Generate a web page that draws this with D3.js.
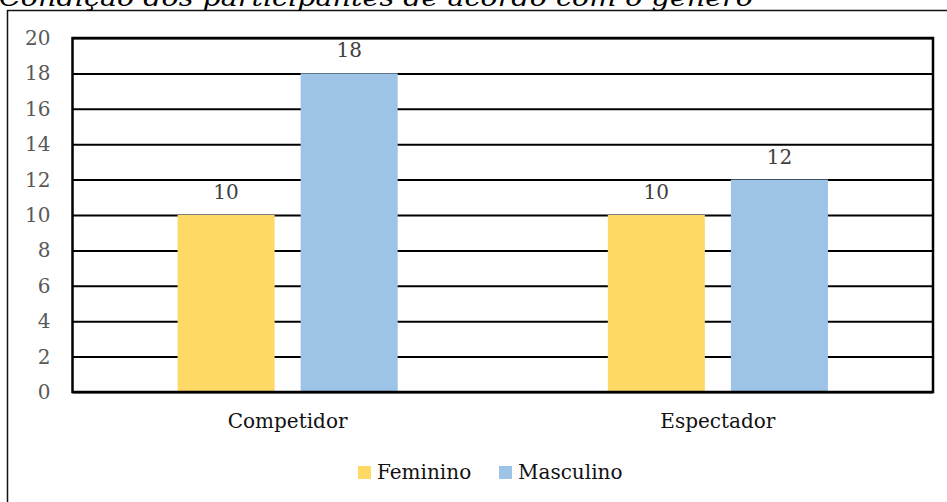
<!DOCTYPE html>
<html>
<head>
<meta charset="utf-8">
<script src="https://cdn.jsdelivr.net/npm/d3@7/dist/d3.min.js"></script>
<style>
  html, body { margin: 0; padding: 0; background: #fff; }
  svg { display: block; }
</style>
</head>
<body>
<svg id="chart" width="947" height="502"></svg>
<script>
const title = "Condição dos participantes de acordo com o gênero";
const categories = ["Competidor", "Espectador"];
const seriesNames = ["Feminino", "Masculino"];
const feminino = [10, 10];
const masculino = [18, 12];
const yTicks = [0, 2, 4, 6, 8, 10, 12, 14, 16, 18, 20];
const colors = ["#FFD966", "#9DC3E6"];

const seriesValues = [feminino, masculino];
const FONT = "'DejaVu Serif', serif";

const svg = d3.select("#chart");

// outer frame
svg.append("rect")
  .attr("x", 7.5).attr("y", 10.5)
  .attr("width", 960).attr("height", 520)
  .attr("fill", "none").attr("stroke", "#111").attr("stroke-width", 1.5);

// title (cut off at top)
svg.append("text")
  .attr("x", -1).attr("y", 6)
  .attr("font-family", FONT)
  .attr("font-style", "italic")
  .attr("font-size", 24)
  .attr("fill", "#000")
  .attr("textLength", 754)
  .attr("lengthAdjust", "spacingAndGlyphs")
  .text(title);

const plot = { left: 72.5, right: 933, top: 38, bottom: 392 };

const x0 = d3.scaleBand().domain(categories).range([plot.left, plot.right]).padding(0);
const x1 = d3.scaleBand().domain(seriesNames).range([0, x0.bandwidth()])
  .paddingInner(26 / 123).paddingOuter(105 / 123);
const y = d3.scaleLinear().domain([0, 20]).range([plot.bottom, plot.top]);

// gridlines
const yAxis = d3.axisLeft(y).tickValues(yTicks).tickSize(-(plot.right - plot.left)).tickPadding(22);
const gy = svg.append("g").attr("transform", `translate(${plot.left},0)`).call(yAxis);
gy.select(".domain").remove();
gy.selectAll(".tick line").attr("stroke", "#000").attr("stroke-width", 2);
gy.selectAll(".tick text")
  .attr("font-family", FONT).attr("font-size", 20).attr("fill", "#595959");

// bars
categories.forEach((cat, ci) => {
  seriesNames.forEach((s, si) => {
    const v = seriesValues[si][ci];
    svg.append("rect")
      .attr("x", x0(cat) + x1(s))
      .attr("y", y(v))
      .attr("width", x1.bandwidth())
      .attr("height", y(0) - y(v))
      .attr("fill", colors[si]);
    svg.append("text")
      .attr("x", x0(cat) + x1(s) + x1.bandwidth() / 2)
      .attr("y", y(v) - 16)
      .attr("text-anchor", "middle")
      .attr("font-family", FONT).attr("font-size", 20).attr("fill", "#404040")
      .text(v);
  });
});

// plot border
svg.append("rect")
  .attr("x", plot.left).attr("y", plot.top)
  .attr("width", plot.right - plot.left).attr("height", plot.bottom - plot.top)
  .attr("fill", "none").attr("stroke", "#000").attr("stroke-width", 2.5);

// category axis labels
const xAxis = d3.axisBottom(x0).tickSize(0).tickPadding(22);
const gx = svg.append("g").attr("transform", `translate(0,${plot.bottom})`).call(xAxis);
gx.select(".domain").remove();
gx.selectAll(".tick text")
  .attr("font-family", FONT).attr("font-size", 20).attr("fill", "#111");

// legend
const legendItems = [
  { name: seriesNames[0], color: colors[0], x: 358 },
  { name: seriesNames[1], color: colors[1], x: 499 }
];
const lg = svg.append("g");
legendItems.forEach(d => {
  lg.append("rect").attr("x", d.x).attr("y", 466).attr("width", 13).attr("height", 13).attr("fill", d.color);
  lg.append("text").attr("x", d.x + 19).attr("y", 479)
    .attr("font-family", FONT).attr("font-size", 20).attr("fill", "#111")
    .text(d.name);
});
</script>
</body>
</html>
